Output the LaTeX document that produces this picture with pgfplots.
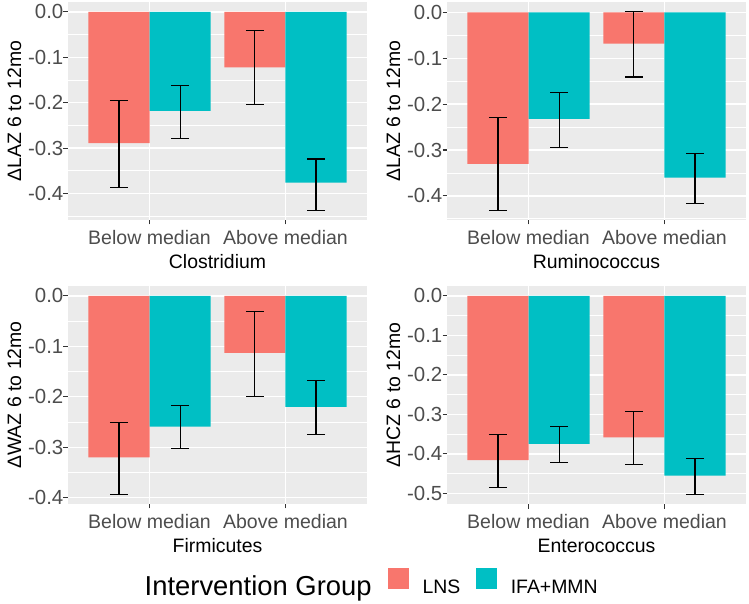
\documentclass[border=0pt]{standalone}
\usepackage{pgfplots}
\pgfplotsset{compat=1.18}
\usepackage{fontspec}
\setmainfont{Liberation Sans}
\definecolor{lns}{HTML}{F8766D}
\definecolor{ifa}{HTML}{00BFC4}
\definecolor{panelbg}{HTML}{EBEBEB}
\definecolor{ticklab}{HTML}{4D4D4D}
\definecolor{tickcol}{HTML}{333333}
\pgfplotsset{
  panel/.style={
    scale only axis, width=299bp, height=218bp,
    anchor=south west,
    xmin=0.4, xmax=2.6,
    xtick={1,2}, xticklabels={Below median, Above median},
    axis background/.style={fill=panelbg},
    axis line style={draw=none},
    tick align=outside, xtick pos=bottom, ytick pos=left,
    major tick length=4.5bp, minor tick length=0pt,
    tick style={draw=tickcol, line width=1.1bp},
    xmajorgrids=true, ymajorgrids=true, yminorgrids=true, xminorgrids=false,
    major grid style={draw=white, line width=1.3bp},
    minor grid style={draw=white, line width=0.65bp},
    ticklabel style={text=ticklab},
    yticklabel style={inner sep=0pt, font=\fontsize{20.5}{24}\selectfont},
    xticklabel style={inner sep=0pt, yshift=-5.5bp, font=\fontsize{19.6}{23}\selectfont},
    label style={font=\fontsize{19.5}{23}\selectfont, text=black},
    xlabel style={at={(axis description cs:0.5,-0.2202)}, anchor=base, inner sep=0pt},
    ylabel style={at={(axis description cs:-0.157,0.5)}, anchor=base, inner sep=0pt},
  },
  bars/.style={ybar, bar width=0.45, bar shift=0pt, draw=none, fill=#1, forget plot},
  ebars/.style={forget plot, draw=none, mark=none,
    error bars/.cd, y dir=both, y explicit,
    error bar style={draw=black, line width=1.1bp, solid},
    error mark options={draw=black, line width=1.1bp, mark size=9bp, rotate=90}},
}
\begin{document}
\begin{tikzpicture}
\path[use as bounding box] (0,0) rectangle (749bp,604bp);

% Panel 1: Clostridium
\begin{axis}[panel, at={(68bp,384bp)},
  ymin=-0.4585, ymax=0.0219,
  ytick={-0.4,-0.3,-0.2,-0.1,0}, yticklabels={-0.4,-0.3,-0.2,-0.1,0.0},
  minor ytick={-0.45,-0.35,-0.25,-0.15,-0.05},
  xlabel={Clostridium}, ylabel={ΔLAZ 6 to 12mo}]
\addplot[bars=lns] coordinates {(0.775,-0.289) (1.775,-0.122)};
\addplot[bars=ifa] coordinates {(1.225,-0.218) (2.225,-0.376)};
\addplot[ebars] coordinates {(0.775,-0.289) += (0,0.093) -= (0,0.097)
  (1.775,-0.122) += (0,0.081) -= (0,0.082)};
\addplot[ebars] coordinates {(1.225,-0.218) += (0,0.056) -= (0,0.060)
  (2.225,-0.376) += (0,0.052) -= (0,0.061)};
\end{axis}

% Panel 2: Ruminococcus
\begin{axis}[panel, at={(447bp,384bp)},
  ymin=-0.4526, ymax=0.0226,
  ytick={-0.4,-0.3,-0.2,-0.1,0}, yticklabels={-0.4,-0.3,-0.2,-0.1,0.0},
  minor ytick={-0.45,-0.35,-0.25,-0.15,-0.05},
  xlabel={Ruminococcus}, ylabel={ΔLAZ 6 to 12mo}]
\addplot[bars=lns] coordinates {(0.775,-0.330) (1.775,-0.068)};
\addplot[bars=ifa] coordinates {(1.225,-0.232) (2.225,-0.360)};
\addplot[ebars] coordinates {(0.775,-0.330) += (0,0.100) -= (0,0.101)
  (1.775,-0.068) += (0,0.069) -= (0,0.073)};
\addplot[ebars] coordinates {(1.225,-0.232) += (0,0.058) -= (0,0.063)
  (2.225,-0.360) += (0,0.053) -= (0,0.056)};
\end{axis}

% Panel 3: Firmicutes
\begin{axis}[panel, at={(68bp,100bp)},
  ymin=-0.4127, ymax=0.0197,
  ytick={-0.4,-0.3,-0.2,-0.1,0}, yticklabels={-0.4,-0.3,-0.2,-0.1,0.0},
  minor ytick={-0.35,-0.25,-0.15,-0.05},
  xlabel={Firmicutes}, ylabel={ΔWAZ 6 to 12mo}]
\addplot[bars=lns] coordinates {(0.775,-0.320) (1.775,-0.113)};
\addplot[bars=ifa] coordinates {(1.225,-0.259) (2.225,-0.220)};
\addplot[ebars] coordinates {(0.775,-0.320) += (0,0.069) -= (0,0.073)
  (1.775,-0.113) += (0,0.082) -= (0,0.086)};
\addplot[ebars] coordinates {(1.225,-0.259) += (0,0.042) -= (0,0.044)
  (2.225,-0.220) += (0,0.053) -= (0,0.055)};
\end{axis}

% Panel 4: Enterococcus
\begin{axis}[panel, at={(447bp,100bp)},
  ymin=-0.527, ymax=0.0251,
  ytick={-0.5,-0.4,-0.3,-0.2,-0.1,0}, yticklabels={-0.5,-0.4,-0.3,-0.2,-0.1,0.0},
  minor ytick={-0.45,-0.35,-0.25,-0.15,-0.05},
  xlabel={Enterococcus}, ylabel={ΔHCZ 6 to 12mo},
  legend image code/.code={\fill[#1] (0bp,-1bp) rectangle (21bp,20bp);},
  legend style={draw=none, fill=none, inner sep=0pt, outer sep=0pt,
    at={(axis description cs:-0.1973,-0.3555)}, anchor=west,
    font=\fontsize{19.5}{22}\selectfont,
    nodes={inner sep=0pt, outer sep=0pt},
    /tikz/every odd column/.append style={column sep=13.5bp},
    /tikz/every even column/.append style={column sep=16bp}},
  legend columns=-1]
\addlegendimage{fill=lns, draw=none}
\addlegendentry{LNS}
\addlegendimage{fill=ifa, draw=none}
\addlegendentry{IFA+MMN}
\addplot[bars=lns] coordinates {(0.775,-0.416) (1.775,-0.358)};
\addplot[bars=ifa] coordinates {(1.225,-0.375) (2.225,-0.455)};
\addplot[ebars] coordinates {(0.775,-0.416) += (0,0.065) -= (0,0.069)
  (1.775,-0.358) += (0,0.065) -= (0,0.068)};
\addplot[ebars] coordinates {(1.225,-0.375) += (0,0.044) -= (0,0.048)
  (2.225,-0.455) += (0,0.044) -= (0,0.047)};
\end{axis}

\node[anchor=base west, inner sep=0pt, font=\fontsize{27.5}{32}\selectfont] at (144.5bp,8.3bp) {Intervention Group};
\end{tikzpicture}
\end{document}
